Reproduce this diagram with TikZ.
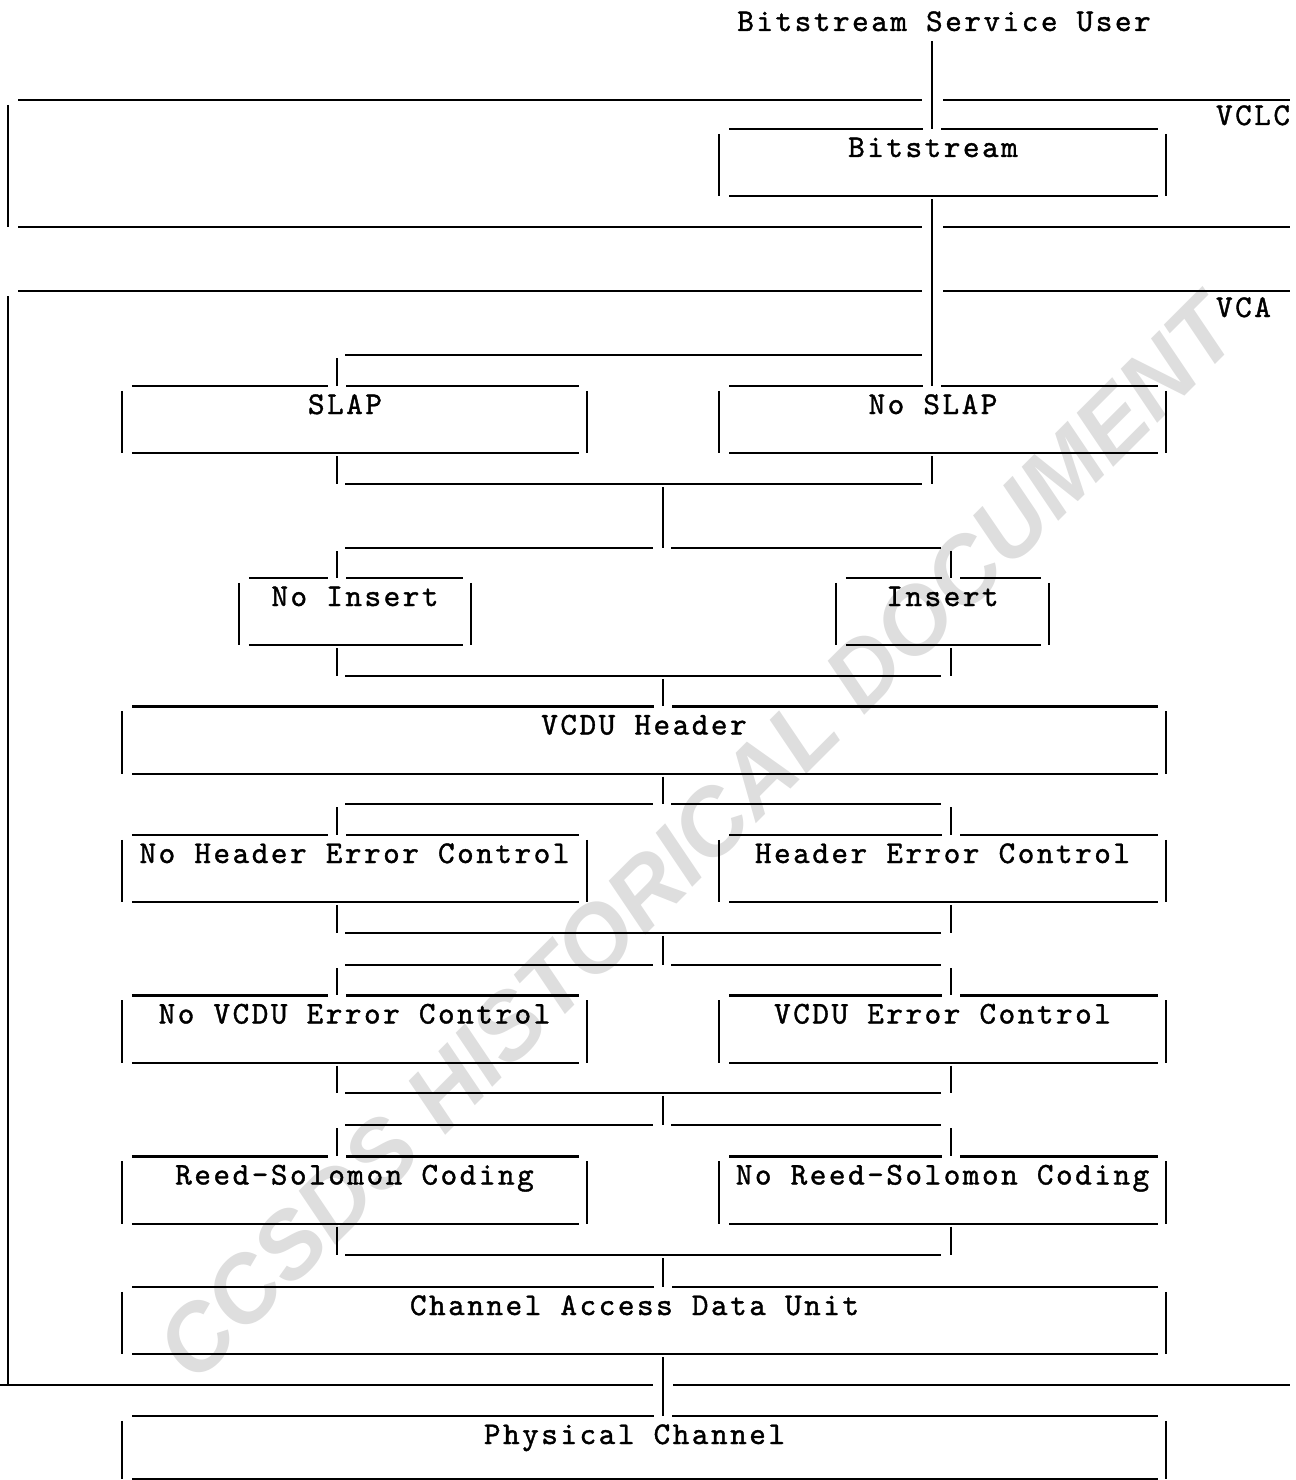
\documentclass[tikz,border=0pt]{standalone}
\usepackage{fontspec}
\newfontfamily\boxfont{lmmono10-regular.otf}[LetterSpace=8,FakeBold=1.2]
\newfontfamily\stampfont{Liberation Sans}
\usetikzlibrary{calc}

% broken frame round a box, top edge opened at column #2
\newcommand{\openframe}[2]{%
  \draw ($(#1.north west)+(10,0)$) -- ($(#1.north -| #2)+(-9,0)$);
  \draw ($(#1.north -| #2)+(9,0)$) -- ($(#1.north east)+(-8,0)$);
  \draw ($(#1.north west)+(0,5)$) -- (#1.south west);
  \draw ($(#1.north east)+(0,5)$) -- (#1.south east);
  \draw ($(#1.south west)+(10,0)$) -- ($(#1.south east)+(-8,0)$);
}
% horizontal run on row #1 between columns #2 and #3
\newcommand{\hrun}[3]{\draw ($(#2 |- #1)+(8,0)$) -- ($(#3 |- #1)+(-10,0)$);}
% split on row #3 into boxes #1 and #2, merge again on row #4
\newcommand{\pairlinks}[4]{%
  \hrun{#3}{cL}{cM} \hrun{#3}{cM}{cR}
  \draw ($(cL |- #3)+(0,3)$) -- (#1.north -| cL);
  \draw ($(cR |- #3)+(0,3)$) -- (#2.north -| cR);
  \draw ($(#1.south -| cL)+(0,3)$) -- (cL |- #4);
  \draw ($(#2.south -| cR)+(0,3)$) -- (cR |- #4);
  \hrun{#4}{cL}{cR}
}

\begin{document}
\begin{tikzpicture}[x=0.02cm,y=-0.02cm,line width=1.2pt,
  txt/.style={font=\boxfont\fontsize{18}{18}\selectfont,inner sep=0pt},
  blk/.style={txt,text height=0.54cm,text depth=0.76cm,minimum width=#1},
  blk/.default=9.26cm,
  halfcol/.style={execute at end node={\hspace*{0.38cm}}}]
\useasboundingbox (0,0) rectangle (1295,1480);

% watermark
\node[rotate=45,text=black!13,inner sep=0pt,
  font=\stampfont\bfseries\itshape\fontsize{53}{53}\selectfont] (stamp) at (697,838) {CCSDS HISTORICAL DOCUMENT};

% columns and rows
\coordinate (cL) at (337,0);
\coordinate (cM) at (663,0);
\coordinate (cR) at (951,0);
\coordinate (cS) at (932,0);
\coordinate (r1) at (0,355);
\coordinate (r2) at (0,484);
\coordinate (r3) at (0,548);
\coordinate (r4) at (0,676);
\coordinate (r5) at (0,804);
\coordinate (r6) at (0,933);
\coordinate (r7) at (0,965);
\coordinate (r8) at (0,1093);
\coordinate (r9) at (0,1125);
\coordinate (r10) at (0,1255);

\node[txt,anchor=base] (user) at (944,31) {Bitstream Service User};

% VCLC layer
\draw (18,100) -- (922,100);
\draw (943,100) -- (1290,100);
\draw (8,105) -- (8,227);
\draw (18,227) -- (922,227);
\draw (943,227) -- (1290,227);
\node[txt,anchor=base west] (vclc) at (1215,125) {VCLC};

% VCA layer
\draw (18,291) -- (922,291);
\draw (943,291) -- (1290,291);
\draw (8,296) -- (8,1385);
\draw (0,1385) -- (653,1385);
\draw (673,1385) -- (1290,1385);
\node[txt,anchor=base west] (vca) at (1215,317) {VCA};

% boxes
\node[blk=8.9cm,halfcol] (bits) at (942.5,162.5) {Bitstream};
\node[blk,halfcol] (slap) at (354.5,419.5) {SLAP};
\node[blk=8.9cm,halfcol] (noslap) at (942.5,419.5) {No SLAP};
\node[blk=4.6cm] (noins) at (355,611.5) {No Insert};
\node[blk=4.22cm] (ins) at (942.5,611.5) {Insert};
\node[blk=20.84cm] (hdr) at (644,740) {VCDU Header};
\node[blk] (nhec) at (354.5,868.5) {No Header Error Control};
\node[blk=8.9cm] (hec) at (942.5,868.5) {Header Error Control};
\node[blk] (nvec) at (354.5,1029) {No VCDU Error Control};
\node[blk=8.9cm] (vec) at (942.5,1029) {VCDU Error Control};
\node[blk] (rs) at (354.5,1190) {Reed-Solomon Coding};
\node[blk=8.9cm] (nrs) at (942.5,1190) {No Reed-Solomon Coding};
\node[blk=20.84cm,halfcol] (cadu) at (644,1320.5) {Channel Access Data Unit};
\node[blk=20.84cm,halfcol,text depth=0.68cm] (pc) at (644,1447.5) {Physical Channel};

\openframe{bits}{cS}
\openframe{slap}{cL}
\openframe{noslap}{cS}
\openframe{noins}{cL}
\openframe{ins}{cR}
\openframe{hdr}{cM}
\openframe{nhec}{cL}
\openframe{hec}{cR}
\openframe{nvec}{cL}
\openframe{vec}{cR}
\openframe{rs}{cL}
\openframe{nrs}{cR}
\openframe{cadu}{cM}
\openframe{pc}{cM}

% connectors
\draw ($(user.south -| cS)+(0,9)$) -- (bits.north -| cS);
\draw ($(bits.south -| cS)+(0,3)$) -- (noslap.north -| cS);
\hrun{r1}{cL}{cS}
\draw ($(cL |- r1)+(0,3)$) -- (slap.north -| cL);
\draw ($(slap.south -| cL)+(0,3)$) -- (cL |- r2);
\draw ($(noslap.south -| cS)+(0,3)$) -- (cS |- r2);
\hrun{r2}{cL}{cS}
\draw ($(cM |- r2)+(0,3)$) -- (cM |- r3);

\pairlinks{noins}{ins}{r3}{r4}
\draw ($(cM |- r4)+(0,3)$) -- (hdr.north -| cM);
\draw ($(hdr.south -| cM)+(0,3)$) -- (cM |- r5);

\pairlinks{nhec}{hec}{r5}{r6}
\draw ($(cM |- r6)+(0,3)$) -- (cM |- r7);

\pairlinks{nvec}{vec}{r7}{r8}
\draw ($(cM |- r8)+(0,3)$) -- (cM |- r9);

\pairlinks{rs}{nrs}{r9}{r10}
\draw ($(cM |- r10)+(0,3)$) -- (cadu.north -| cM);
\draw ($(cadu.south -| cM)+(0,3)$) -- (pc.north -| cM);
\end{tikzpicture}
\end{document}
